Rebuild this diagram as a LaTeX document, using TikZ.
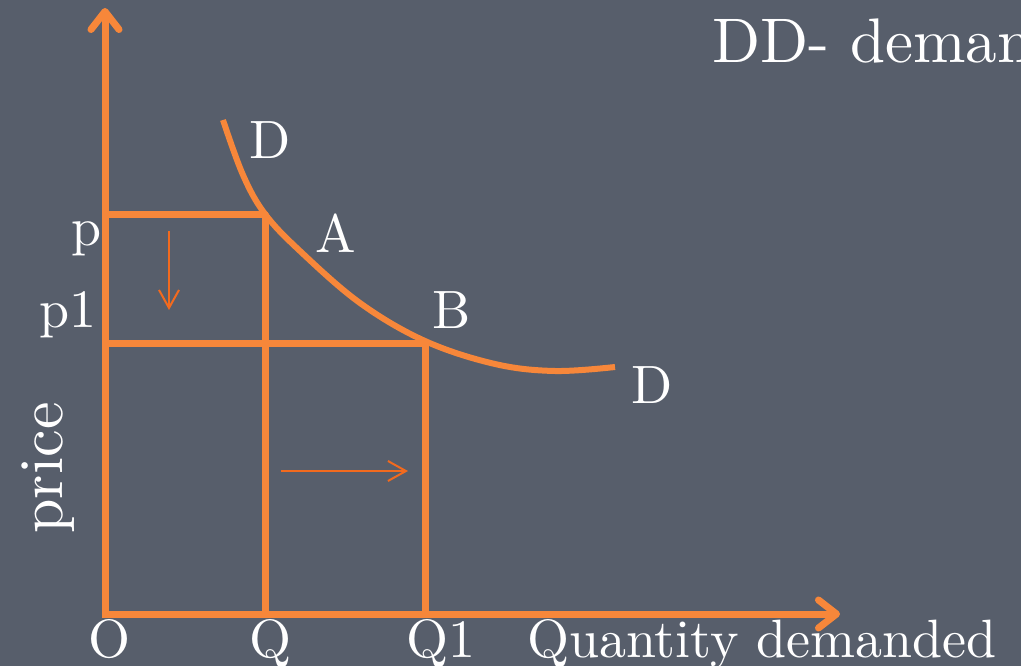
\documentclass[tikz,border=0pt]{standalone}
\usepackage{fontspec}
\usetikzlibrary{arrows.meta}
\newfontfamily\slidefont{lmroman10-regular}[Extension=.otf]
\definecolor{slidebg}{HTML}{575E6B}
\definecolor{curveorange}{HTML}{F7873A}
\definecolor{shiftorange}{HTML}{F26A1E}

\begin{document}
\begin{tikzpicture}[
  x=1pt,
  y=-1pt,
  line join=round,
  axis/.style={draw=curveorange,line width=7pt,line join=miter,
    {Straight Barb[length=18pt,width=28pt,round]}-{Straight Barb[length=18pt,width=28pt,round]}},
  guide/.style={draw=curveorange,line width=7pt},
  demand/.style={draw=curveorange,line width=6pt},
  movearrow/.style={draw=shiftorange,line width=2pt,-{Straight Barb[length=18pt,width=20pt]}},
  pointlabel/.style={text=white,inner sep=0pt,font=\slidefont\fontsize{54}{60}\selectfont},
  titlelabel/.style={text=white,inner sep=0pt,font=\slidefont\fontsize{63}{70}\selectfont}
]
  % Slide background, cut at the page edge.
  \useasboundingbox (0,0) rectangle (1021,666);
  \clip (0,0) rectangle (1021,666);
  \fill[slidebg] (0,0) rectangle (1021,666);

  % Axes corner and ends.
  \coordinate (O) at (105,614);
  \coordinate (Ytop) at (105,8);
  \coordinate (Xend) at (840,614);

  % Price levels and quantities.
  \coordinate (pAxis) at (105,215);
  \coordinate (A) at (265,214);
  \coordinate (Q) at (265,614);
  \coordinate (p1Axis) at (105,343);
  \coordinate (B) at (425,341);
  \coordinate (Q1) at (425,614);

  \draw[axis] (Ytop) -- (O) -- (Xend);

  \draw[guide] (pAxis) -- (A |- pAxis) -- (Q);
  \draw[guide] (p1Axis) -- (B |- p1Axis) -- (Q1);

  % Downward sloping demand curve DD.
  \draw[demand,line cap=butt] plot[smooth,tension=0.6] coordinates
    {(223,120) (243,175) (A) (300,251) (360,303) (B) (495,364) (555,371) (615,367)};

  % Price falls, quantity demanded rises.
  \coordinate (fallTop) at (169,231);
  \coordinate (fallEnd) at (169,310);
  \coordinate (riseStart) at (281,471);
  \coordinate (riseEnd) at (408,471);
  \draw[movearrow] (fallTop) -- (fallEnd);
  \draw[movearrow] (riseStart) -- (riseEnd);

  \node[pointlabel] (Dtop) at (270,140) {D};
  \node[pointlabel] (Alabel) at (336,233) {A};
  \node[pointlabel] (Blabel) at (452,310) {B};
  \node[pointlabel] (Dend) at (652,385) {D};

  \node[pointlabel,anchor=base east] (plabel) at (102,245) {p};
  \node[pointlabel,anchor=base east] (p1label) at (97,327) {p1};
  \node[pointlabel,anchor=base] (Olabel) at (110,657) {O};
  \node[pointlabel,anchor=base] (Qlabel) at (271,657) {Q};
  \node[pointlabel,anchor=base] (Q1label) at (441,657) {Q1};
  \node[pointlabel,anchor=base west] (xlabel) at (527,657) {Quantity demanded};
  \node[pointlabel,rotate=90,font=\slidefont\fontsize{62}{70}\selectfont] (ylabel) at (48,468) {price};

  \node[titlelabel,anchor=base west] (title) at (712,63) {DD- demand};
\end{tikzpicture}
\end{document}
